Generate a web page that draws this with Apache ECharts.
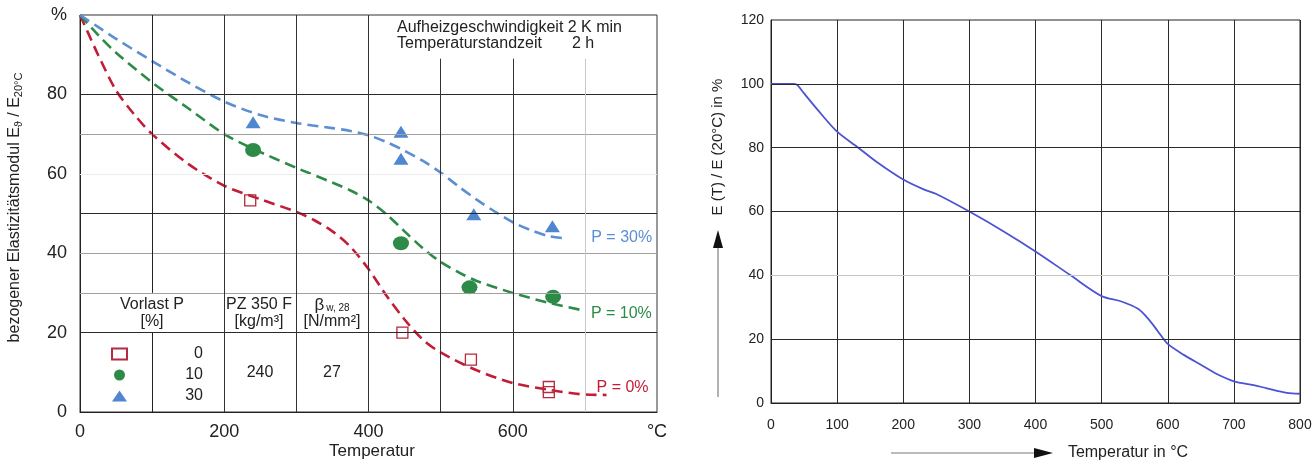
<!DOCTYPE html>
<html>
<head>
<meta charset="utf-8">
<script src="https://cdn.jsdelivr.net/npm/echarts@6/dist/echarts.min.js"></script>
<style>
  html, body { margin: 0; padding: 0; background: #fff; }
  #chart { width: 1315px; height: 461px; }
</style>
</head>
<body>
<div id="chart"></div>
<script>
// ---- linke Grafik: Porenbeton, E-Modul bei Vorlast ----
// Ausgleichskurven [Temperatur °C, E/E20 %]
const curveP0 = [[0,100],[10,96],[25,90],[50,81],[75,75],[100,70],[150,62.5],[200,57],[250,53.6],[300,50.4],[325,48.3],[350,45.5],[375,41.6],[400,36],[425,29.3],[450,23.3],[475,18.3],[500,15],[550,10.5],[600,7.3],[650,5.6],[700,4.4],[730,4.3]];
const curveP10 = [[0,100],[25,95],[50,90.5],[100,83],[150,76.5],[200,70],[240,66.3],[300,61.5],[350,57.8],[375,55.8],[400,53.3],[425,49.8],[450,45.5],[475,41.3],[500,37.8],[525,35.2],[550,33],[600,30],[650,27.5],[700,25.5]];
const curveP30 = [[0,100],[25,97],[50,94],[100,88.4],[150,83],[200,78.2],[250,74.8],[300,72.8],[350,71.5],[375,70.8],[400,69.7],[425,68],[450,65.8],[475,63.3],[500,60.3],[525,56.8],[550,53.5],[575,50.5],[600,47.8],[625,45.8],[650,44.3],[670,43.8]];
// Messpunkte
const pointsP0 = [[236,53.3],[447,20],[542,13.2],[650,6.3],[650,5]];
const pointsP10 = [[240,66],[445,42.5],[540,31.4],[656,29]];
const pointsP30 = [[240,73],[445,70.6],[445,63.8],[546,49.8],[655,46.8]];
const curveNames = ['P = 0%', 'P = 10%', 'P = 30%'];
const legendNames = ['0', '10', '30'];

// Gitterlinien links (Werte in Achseinheiten)
const leftHDark = [20, 50, 80];
const leftHMid = [30, 40, 70];
const leftHLight = [60];
const leftVFull = [200, 300, 400];
const leftVShort = [500, 600];   // enden unter dem Textkasten
const leftVLight = [700];
const boxBottom = 89;

// ---- rechte Grafik: E(T)/E(20°C) ----
const rightCurve = [[0,100],[35,100],[40,99.6],[50,97],[70,92],[100,85],[132,80],[160,75.5],[200,70],[230,67],[250,65.5],[300,60],[350,54],[400,47.5],[453,40],[500,33.5],[530,31.8],[555,29.5],[570,26.5],[585,22.5],[600,18.5],[625,15],[650,12],[675,9],[700,6.8],[730,5.6],[750,4.6],[780,3.2],[800,2.9]];
const rightHDark = [20, 60, 80, 100];
const rightHLight = [40];

const RED = '#c21d36', GREEN = '#2e8b47', BLUE = '#5b8fd2', LINEBLUE = '#4b53d3';
const FONT = "'Liberation Sans', Arial, sans-serif";

function seg(x1, y1, x2, y2, color, width) {
  return [{ coord: [x1, y1], lineStyle: { color: color, width: width || 1, type: 'solid' } }, { coord: [x2, y2] }];
}

const leftGrid = [];
leftHDark.forEach(v => leftGrid.push(seg(0, v, 800, v, '#2a2a2a')));
leftHMid.forEach(v => leftGrid.push(seg(0, v, 800, v, '#a0a0a0')));
leftHLight.forEach(v => leftGrid.push(seg(0, v, 800, v, '#ececec')));
leftVFull.forEach(v => leftGrid.push(seg(v, 0, v, 100, '#333')));
leftGrid.push(seg(100, 0, 100, 20, '#222'));
leftGrid.push(seg(100, 30, 100, 100, '#222'));
leftVShort.forEach(v => leftGrid.push(seg(v, 0, v, boxBottom, '#333')));
leftVLight.forEach(v => leftGrid.push(seg(v, 0, v, boxBottom, '#c8c8c8')));

const rightGrid = [];
rightHDark.forEach(v => rightGrid.push(seg(0, v, 800, v, '#2a2a2a')));
rightHLight.forEach(v => rightGrid.push(seg(0, v, 800, v, '#c4c4c4')));

const chart = echarts.init(document.getElementById('chart'));

function dashed(name, data, color, labelOffset) {
  return {
    name: name, type: 'line', xAxisIndex: 0, yAxisIndex: 0,
    data: data, smooth: 0.3, showSymbol: false, z: 3, silent: true,
    lineStyle: { color: color, width: 2.6, type: [11, 6] },
    endLabel: {
      show: true, formatter: name, color: color, fontSize: 16, fontFamily: FONT,
      offset: labelOffset
    }
  };
}

const txt = (x, y, text, size) => ({
  type: 'text', x: x, y: y, z: 6,
  style: { text: text, align: 'center', verticalAlign: 'middle', fill: '#222', font: (size || 16) + 'px ' + FONT }
});

chart.setOption({
  animation: false,
  textStyle: { fontFamily: FONT },
  grid: [
    { left: 80, top: 15, width: 577, height: 397, outerBoundsMode: 'none', show: true, borderColor: '#333', borderWidth: 1 },
    { left: 771, top: 20, width: 529, height: 383, outerBoundsMode: 'none', show: true, borderColor: '#222', borderWidth: 1 }
  ],
  xAxis: [
    {
      gridIndex: 0, type: 'value', min: 0, max: 800, interval: 200,
      axisLine: { lineStyle: { color: '#222' } }, axisTick: { show: false }, splitLine: { show: false },
      axisLabel: { fontSize: 18, color: '#222', margin: 11, formatter: v => v === 800 ? '°C' : v }
    },
    {
      gridIndex: 1, type: 'value', min: 0, max: 800, interval: 100,
      axisLine: { lineStyle: { color: '#222' } }, axisTick: { show: false },
      splitLine: { lineStyle: { color: '#2a2a2a' } },
      axisLabel: { fontSize: 14, color: '#222', margin: 15 }
    }
  ],
  yAxis: [
    {
      gridIndex: 0, type: 'value', min: 0, max: 100, interval: 20,
      name: 'bezogener Elastizitätsmodul E{s|ϑ} / E{s|20°C}', nameLocation: 'middle', nameGap: 56, nameRotate: 90,
      nameTextStyle: { fontSize: 16, color: '#222', padding: [0, 0, 0, 12], rich: { s: { fontSize: 11, color: '#222', verticalAlign: 'bottom', padding: [8, 0, 0, 0] } } },
      axisLine: { show: true, lineStyle: { color: '#222' } }, axisTick: { show: false }, splitLine: { show: false },
      axisLabel: { fontSize: 18, color: '#222', margin: 13, formatter: v => v === 100 ? '%' : v }
    },
    {
      gridIndex: 1, type: 'value', min: 0, max: 120, interval: 20,
      axisLine: { show: true, lineStyle: { color: '#222' } }, axisTick: { show: false }, splitLine: { show: false },
      axisLabel: { fontSize: 14, color: '#222', margin: 7 }
    }
  ],
  legend: {
    data: legendNames, orient: 'vertical', left: 106, top: 341, itemGap: 5,
    itemWidth: 15, itemHeight: 11, selectedMode: false,
    formatter: '{n|{name}}',
    textStyle: { rich: { n: { width: 71, align: 'right', fontSize: 16, lineHeight: 16, color: '#222' } } }
  },
  series: [
    {
      type: 'line', xAxisIndex: 0, yAxisIndex: 0, data: [[0, 0]], showSymbol: false, silent: true,
      lineStyle: { opacity: 0 }, z: 1,
      markLine: { silent: true, symbol: ['none', 'none'], label: { show: false }, data: leftGrid }
    },
    dashed(curveNames[0], curveP0, RED, [-18, -7]),
    dashed(curveNames[1], curveP10, GREEN, [-2, 3]),
    dashed(curveNames[2], curveP30, BLUE, [20, -1]),
    {
      name: legendNames[0], type: 'scatter', xAxisIndex: 0, yAxisIndex: 0, data: pointsP0, z: 4,
      symbol: 'rect', symbolSize: 11,
      itemStyle: { color: 'rgba(255,255,255,0)', borderColor: '#b52a3c', borderWidth: 1.3, opacity: 1 }
    },
    {
      name: legendNames[1], type: 'scatter', xAxisIndex: 0, yAxisIndex: 0, data: pointsP10, z: 4,
      symbol: 'circle', symbolSize: [16, 14], itemStyle: { color: GREEN, opacity: 1 }
    },
    {
      name: legendNames[2], type: 'scatter', xAxisIndex: 0, yAxisIndex: 0, data: pointsP30, z: 4,
      symbol: 'triangle', symbolSize: [15, 12], itemStyle: { color: '#4f86cf', opacity: 1 }
    },
    {
      type: 'line', xAxisIndex: 1, yAxisIndex: 1, data: rightCurve, smooth: 0.3, showSymbol: false, silent: true,
      lineStyle: { color: LINEBLUE, width: 1.8 }, z: 3,
      markLine: { silent: true, symbol: ['none', 'none'], label: { show: false }, data: rightGrid }
    }
  ],
  graphic: [
    // Textkasten oben
    { type: 'rect', left: 368, top: 16, shape: { width: 288, height: 40 }, style: { fill: '#fff' }, z: 5 },
    { type: 'text', left: 397, top: 20, z: 6, style: { text: 'Aufheizgeschwindigkeit 2 K min', fill: '#222', font: '16px ' + FONT } },
    { type: 'text', left: 397, top: 36, z: 6, style: { text: 'Temperaturstandzeit', fill: '#222', font: '16px ' + FONT } },
    { type: 'text', left: 572, top: 36, z: 6, style: { text: '2 h', fill: '#222', font: '16px ' + FONT } },
    // x-Achsentitel links
    txt(372, 451, 'Temperatur', 17),
    // Tabelle
    txt(152, 305, 'Vorlast P'),
    txt(152, 322, '[%]'),
    txt(259, 305, 'PZ 350 F'),
    txt(259, 322, '[kg/m³]'),
    { type: 'text', x: 332, y: 305, z: 6, style: { text: 'β{s|w, 28}', align: 'center', verticalAlign: 'middle', fill: '#222', font: '17px ' + FONT, rich: { s: { fontSize: 10, fill: '#222', padding: [6, 0, 0, 2] } } } },
    txt(332, 322, '[N/mm²]'),
    txt(260, 373, '240'),
    txt(332, 373, '27'),
    // rechte Grafik: Achsbeschriftungen mit Pfeilen
    { type: 'text', x: 718, y: 147, rotation: Math.PI / 2, style: { text: 'E (T) / E (20°C) in %', align: 'center', verticalAlign: 'middle', fill: '#222', font: '15px ' + FONT } },
    { type: 'line', shape: { x1: 718, y1: 397, x2: 718, y2: 248 }, style: { stroke: '#999', lineWidth: 1.5 } },
    { type: 'polygon', shape: { points: [[713, 248], [723, 248], [718, 230]] }, style: { fill: '#111' } },
    { type: 'line', shape: { x1: 891, y1: 453, x2: 1034, y2: 453 }, style: { stroke: '#bbb', lineWidth: 2 } },
    { type: 'polygon', shape: { points: [[1034, 448], [1034, 458], [1053, 453]] }, style: { fill: '#111' } },
    txt(1128, 453, 'Temperatur in °C', 16)
  ]
});
</script>
</body>
</html>
